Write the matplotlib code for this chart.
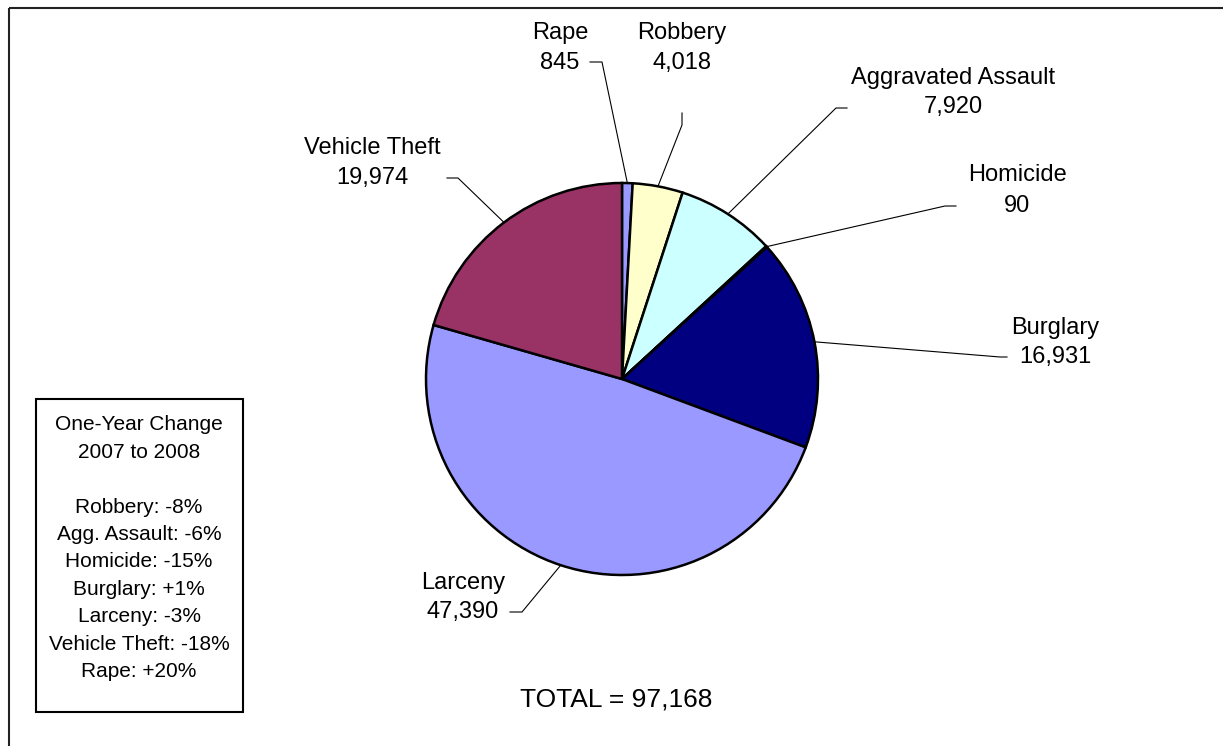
import math
import matplotlib.pyplot as plt
from matplotlib.patches import Rectangle

plt.rcParams['font.family'] = ['Liberation Sans', 'DejaVu Sans']

# Data
crimes = ['Rape', 'Robbery', 'Aggravated Assault', 'Homicide', 'Burglary', 'Larceny', 'Vehicle Theft']
counts = [845, 4018, 7920, 90, 16931, 47390, 19974]
colors = ['#9999FF', '#FFFFCC', '#CCFFFF', '#008080', '#000080', '#9999FF', '#993366']
box_title = ['One-Year Change', '2007 to 2008']
box_lines = ['Robbery: -8%', 'Agg. Assault: -6%', 'Homicide: -15%', 'Burglary: +1%',
             'Larceny: -3%', 'Vehicle Theft: -18%', 'Rape: +20%']

# Layout (pixel coords): label centre x, name line y, value line y, leader points near the label
label_xy = [(560, 33, 63), (682, 33, 63), (953, 78, 107), (1017, 175, 206),
            (1055, 328, 357), (463, 583, 612), (372, 148, 178)]
leaders = [[(590, 62), (602, 62)], [(682, 113), (682, 125)], [(847, 108), (836, 108)],
           [(956, 206), (945, 206)], [(1007, 357), (1000, 357)], [(510, 612), (522, 612)],
           [(447, 178), (458, 178)]]

W, H = 1223, 746
fig = plt.figure(figsize=(W / 100, H / 100), dpi=100)
ax = fig.add_axes([0, 0, 1, 1])

# y axis inverted so pixel coords read top-down; counterclock in data = clockwise on screen
wedges, _ = ax.pie(counts, colors=colors, startangle=-90, counterclock=True,
                   center=(622, 379), radius=196,
                   wedgeprops=dict(edgecolor='black', linewidth=1.8))
ax.set_xlim(0, W)
ax.set_ylim(H, 0)
ax.set_aspect('equal')
ax.axis('off')

fs = 17
for w, name, v, (tx, y1, y2), pts in zip(wedges, crimes, counts, label_xy, leaders):
    # leader ends on the wedge rim at its mid angle
    mid = math.radians((w.theta1 + w.theta2) / 2)
    rx = w.center[0] + w.r * math.cos(mid)
    ry = w.center[1] + w.r * math.sin(mid)
    xs = [p[0] for p in pts] + [rx]
    ys = [p[1] for p in pts] + [ry]
    ax.plot(xs, ys, color='black', lw=0.8)
    ax.text(tx, y1, name, ha='center', va='center', fontsize=fs)
    ax.text(tx, y2, f'{v:,}', ha='center', va='center', fontsize=fs)

ax.text(616, 700, 'TOTAL = {:,}'.format(sum(counts)), ha='center', va='center', fontsize=19)

# change box
fs_box = 15
ax.add_patch(Rectangle((36, 399), 207, 313, fill=False, edgecolor='black', lw=1.5))
y = 425
for line in box_title:
    ax.text(139, y, line, ha='center', va='center', fontsize=fs_box)
    y += 27.4
y += 27.4
for line in box_lines:
    ax.text(139, y, line, ha='center', va='center', fontsize=fs_box)
    y += 27.4

# outer chart frame (only top and left edges are inside the picture)
ax.add_patch(Rectangle((9, 8), 1300, 800, fill=False, edgecolor='#222222', lw=1.5))

fig.savefig('out.png', dpi=100)
